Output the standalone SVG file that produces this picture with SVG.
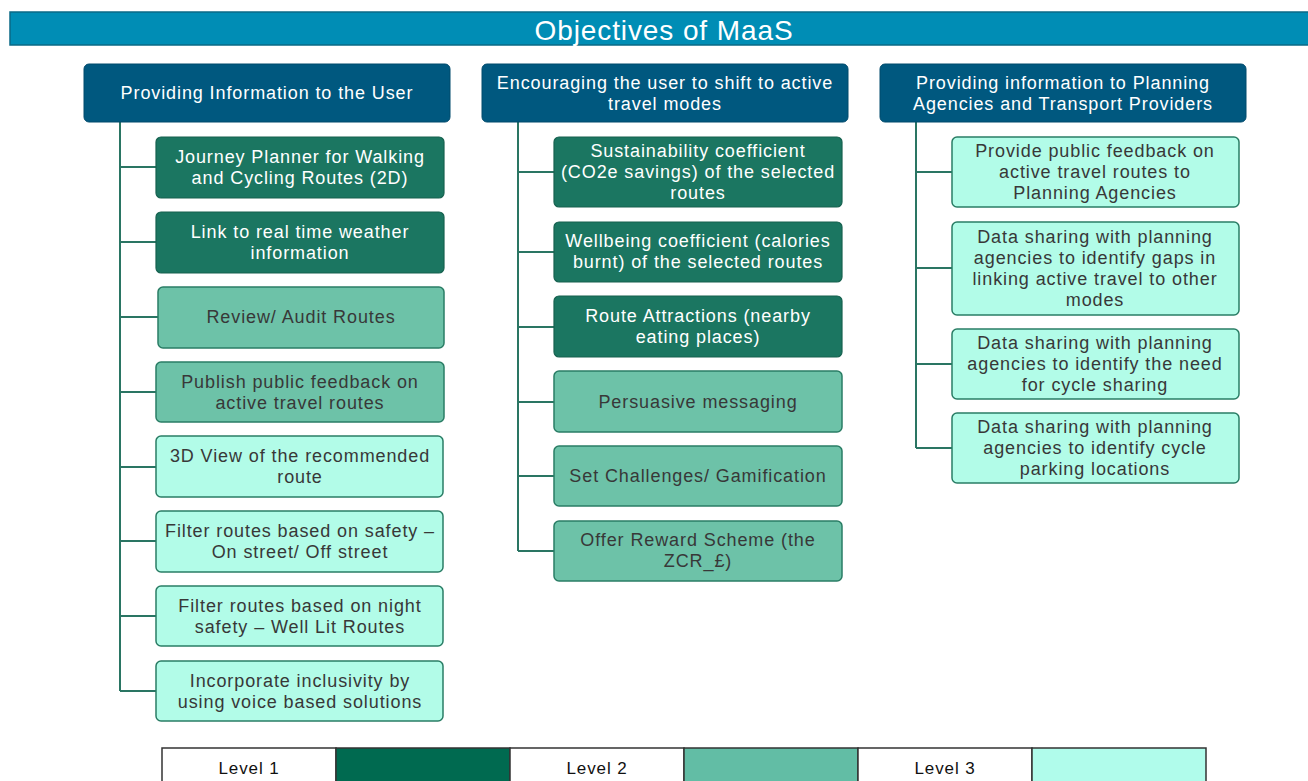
<svg xmlns="http://www.w3.org/2000/svg" width="1308" height="781" viewBox="0 0 1308 781">
<style>
text{font-family:"Liberation Sans",Arial,sans-serif;text-anchor:middle;letter-spacing:0.9px}
.hd{fill:#00587F;stroke:#004A6C;stroke-width:1}
.hdt{fill:#fff;font-size:18px}
.l1{fill:#1B7661;stroke:#16614F;stroke-width:1.2}
.l2{fill:#6DC2A8;stroke:#2A7D65;stroke-width:1.5}
.l3{fill:#B2FCE8;stroke:#2A7D65;stroke-width:1.5}
.w{fill:#fff;font-size:18px}
.d{fill:#383838;font-size:18px}
.con{stroke:#2A7563;stroke-width:2;fill:none}
.lg{font-size:17px;fill:#111}
</style>
<rect width="1308" height="781" fill="#fff"/>
<g id="title">
<rect x="10" y="12" width="1300" height="33" fill="#008DB5" stroke="#0A6A86" stroke-width="1.5"/>
<text x="664" y="40" fill="#fff" font-size="28">Objectives of MaaS</text>
</g>
<g id="connectors">
<path class="con" d="M120 122V691M120 167H156M120 242H156M120 317H158M120 392H156M120 467H156M120 541H156M120 616H156M120 691H156"/>
<path class="con" d="M518 122V551M518 172H554M518 252H554M518 327H554M518 402H554M518 476H554M518 551H554"/>
<path class="con" d="M916 122V448M916 172H952M916 268H952M916 364H952M916 448H952"/>
</g>
<g id="h1"><rect class="hd" x="84" y="64" width="366" height="58" rx="5"/><text class="hdt" x="267" y="99">Providing Information to the User</text></g>
<g id="h2"><rect class="hd" x="482" y="64" width="366" height="58" rx="5"/><text class="hdt" x="665" y="89">Encouraging the user to shift to active</text><text class="hdt" x="665" y="110">travel modes</text></g>
<g id="h3"><rect class="hd" x="880" y="64" width="366" height="58" rx="5"/><text class="hdt" x="1063" y="89">Providing information to Planning</text><text class="hdt" x="1063" y="110">Agencies and Transport Providers</text></g>

<g id="a1"><rect class="l1" x="156" y="137" width="288" height="61" rx="5"/><text class="w" x="300" y="163">Journey Planner for Walking</text><text class="w" x="300" y="184">and Cycling Routes (2D)</text></g>
<g id="a2"><rect class="l1" x="156" y="212" width="288" height="61" rx="5"/><text class="w" x="300" y="238">Link to real time weather</text><text class="w" x="300" y="259">information</text></g>
<g id="a3"><rect class="l2" x="158" y="287" width="286" height="61" rx="5"/><text class="d" x="301" y="323">Review/ Audit Routes</text></g>
<g id="a4"><rect class="l2" x="156" y="362" width="288" height="60" rx="5"/><text class="d" x="300" y="388">Publish public feedback on</text><text class="d" x="300" y="409">active travel routes</text></g>
<g id="a5"><rect class="l3" x="156" y="436" width="287" height="61" rx="5"/><text class="d" x="300" y="462">3D View of the recommended</text><text class="d" x="300" y="483">route</text></g>
<g id="a6"><rect class="l3" x="156" y="511" width="287" height="61" rx="5"/><text class="d" x="300" y="537">Filter routes based on safety –</text><text class="d" x="300" y="558">On street/ Off street</text></g>
<g id="a7"><rect class="l3" x="156" y="586" width="287" height="60" rx="5"/><text class="d" x="300" y="612">Filter routes based on night</text><text class="d" x="300" y="633">safety – Well Lit Routes</text></g>
<g id="a8"><rect class="l3" x="156" y="661" width="287" height="60" rx="5"/><text class="d" x="300" y="687">Incorporate inclusivity  by</text><text class="d" x="300" y="708">using voice based solutions</text></g>

<g id="b1"><rect class="l1" x="554" y="137" width="288" height="70" rx="5"/><text class="w" x="698" y="157">Sustainability coefficient</text><text class="w" x="698" y="178">(CO2e savings) of the selected</text><text class="w" x="698" y="199">routes</text></g>
<g id="b2"><rect class="l1" x="554" y="222" width="288" height="60" rx="5"/><text class="w" x="698" y="247">Wellbeing coefficient (calories</text><text class="w" x="698" y="268">burnt) of the selected routes</text></g>
<g id="b3"><rect class="l1" x="554" y="296" width="288" height="61" rx="5"/><text class="w" x="698" y="322">Route Attractions (nearby</text><text class="w" x="698" y="343">eating places)</text></g>
<g id="b4"><rect class="l2" x="554" y="371" width="288" height="61" rx="5"/><text class="d" x="698" y="408">Persuasive messaging</text></g>
<g id="b5"><rect class="l2" x="554" y="446" width="288" height="60" rx="5"/><text class="d" x="698" y="482">Set Challenges/ Gamification</text></g>
<g id="b6"><rect class="l2" x="554" y="521" width="288" height="60" rx="5"/><text class="d" x="698" y="546">Offer Reward Scheme (the</text><text class="d" x="698" y="567">ZCR_£)</text></g>

<g id="c1"><rect class="l3" x="952" y="137" width="287" height="70" rx="5"/><text class="d" x="1095" y="157">Provide public feedback on</text><text class="d" x="1095" y="178">active travel routes to</text><text class="d" x="1095" y="199">Planning Agencies</text></g>
<g id="c2"><rect class="l3" x="952" y="222" width="287" height="93" rx="5"/><text class="d" x="1095" y="243">Data sharing with planning</text><text class="d" x="1095" y="264">agencies to identify gaps in</text><text class="d" x="1095" y="285">linking active travel to other</text><text class="d" x="1095" y="306">modes</text></g>
<g id="c3"><rect class="l3" x="952" y="329" width="287" height="70" rx="5"/><text class="d" x="1095" y="349">Data sharing with planning</text><text class="d" x="1095" y="370">agencies to identify  the need</text><text class="d" x="1095" y="391">for cycle sharing</text></g>
<g id="c4"><rect class="l3" x="952" y="413" width="287" height="70" rx="5"/><text class="d" x="1095" y="433">Data sharing with planning</text><text class="d" x="1095" y="454">agencies to identify cycle</text><text class="d" x="1095" y="475">parking locations</text></g>

<g id="legend">
<rect x="162" y="748" width="174" height="40" fill="#fff" stroke="#333" stroke-width="1.5"/>
<rect x="336" y="748" width="174" height="40" fill="#006A50" stroke="#333" stroke-width="1.5"/>
<rect x="510" y="748" width="174" height="40" fill="#fff" stroke="#333" stroke-width="1.5"/>
<rect x="684" y="748" width="174" height="40" fill="#62BDA5" stroke="#333" stroke-width="1.5"/>
<rect x="858" y="748" width="174" height="40" fill="#fff" stroke="#333" stroke-width="1.5"/>
<rect x="1032" y="748" width="174" height="40" fill="#B0FCEB" stroke="#333" stroke-width="1.5"/>
<text class="lg" x="249" y="774">Level 1</text>
<text class="lg" x="597" y="774">Level 2</text>
<text class="lg" x="945" y="774">Level 3</text>
</g>
</svg>
